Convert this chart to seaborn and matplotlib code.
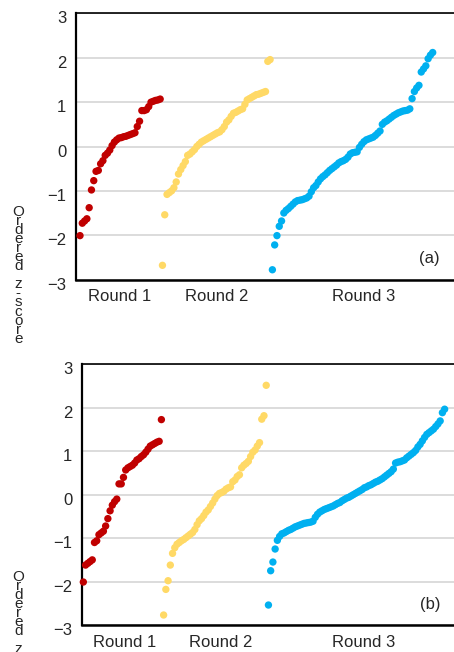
import matplotlib
matplotlib.use("Agg")
import matplotlib.pyplot as plt
import matplotlib.transforms as mtransforms
import pandas as pd
import seaborn as sns

rounds = ["Round 1", "Round 2", "Round 3"]
colors = ["#C00000", "#FFD966", "#00B0F0"]
y_ticks = [-3, -2, -1, 0, 1, 2, 3]
y_label = "Ordered z-score"

# panel (a): sorted scores per round
a_round1 = [-2.01, -1.73, -1.68, -1.63, -1.38, -0.98, -0.77, -0.56, -0.54, -0.39,
            -0.32, -0.20, -0.15, -0.08, 0.02, 0.10, 0.15, 0.19, 0.20, 0.22,
            0.23, 0.25, 0.27, 0.29, 0.31, 0.45, 0.57, 0.81, 0.81, 0.83,
            0.90, 1.00, 1.02, 1.04, 1.05, 1.07]
a_round2 = [-2.68, -1.54, -1.08, -1.04, -1.00, -0.93, -0.80, -0.62, -0.52, -0.43,
            -0.34, -0.20, -0.17, -0.12, -0.07, 0.00, 0.05, 0.10, 0.13, 0.16,
            0.19, 0.22, 0.25, 0.28, 0.31, 0.33, 0.38, 0.45, 0.55, 0.60,
            0.68, 0.75, 0.77, 0.80, 0.83, 0.85, 0.95, 1.05, 1.08, 1.11,
            1.14, 1.17, 1.18, 1.20, 1.22, 1.24, 1.92, 1.96]
a_round3 = [-2.78, -2.22, -2.01, -1.80, -1.68, -1.50, -1.44, -1.40, -1.35, -1.30,
            -1.25, -1.22, -1.21, -1.20, -1.18, -1.16, -1.12, -1.02, -0.93, -0.88,
            -0.80, -0.73, -0.68, -0.64, -0.59, -0.54, -0.50, -0.46, -0.42, -0.37,
            -0.34, -0.32, -0.29, -0.24, -0.17, -0.14, -0.13, -0.12, -0.02, 0.05,
            0.11, 0.15, 0.17, 0.19, 0.21, 0.25, 0.30, 0.35, 0.50, 0.55,
            0.58, 0.62, 0.66, 0.70, 0.73, 0.76, 0.78, 0.80, 0.81, 0.82,
            0.85, 1.08, 1.24, 1.32, 1.38, 1.68, 1.75, 1.82, 1.98, 2.06,
            2.12]

# panel (b)
b_round1 = [-2.01, -1.62, -1.58, -1.54, -1.50, -1.10, -1.06, -0.92, -0.88, -0.84,
            -0.72, -0.55, -0.37, -0.24, -0.16, -0.10, 0.25, 0.25, 0.40, 0.57,
            0.62, 0.65, 0.68, 0.73, 0.80, 0.83, 0.88, 0.92, 0.98, 1.05,
            1.12, 1.15, 1.18, 1.21, 1.23, 1.73]
b_round2 = [-2.77, -2.18, -1.98, -1.62, -1.35, -1.22, -1.14, -1.10, -1.06, -1.03,
            -0.99, -0.95, -0.91, -0.87, -0.80, -0.69, -0.60, -0.55, -0.48, -0.40,
            -0.35, -0.27, -0.19, -0.10, -0.02, 0.03, 0.05, 0.08, 0.13, 0.16,
            0.18, 0.30, 0.34, 0.42, 0.46, 0.62, 0.68, 0.72, 0.77, 0.88,
            0.98, 1.03, 1.12, 1.20, 1.74, 1.82, 2.52]
b_round3 = [-2.54, -1.75, -1.55, -1.25, -1.05, -0.96, -0.90, -0.88, -0.85, -0.82,
            -0.80, -0.77, -0.74, -0.72, -0.70, -0.68, -0.66, -0.65, -0.64, -0.63,
            -0.61, -0.52, -0.45, -0.40, -0.37, -0.34, -0.32, -0.30, -0.28, -0.26,
            -0.23, -0.20, -0.18, -0.14, -0.11, -0.08, -0.06, -0.03, 0.00, 0.03,
            0.06, 0.09, 0.12, 0.16, 0.18, 0.21, 0.23, 0.26, 0.29, 0.31,
            0.34, 0.37, 0.41, 0.45, 0.49, 0.53, 0.59, 0.73, 0.75, 0.76,
            0.78, 0.80, 0.85, 0.89, 0.93, 0.97, 1.02, 1.10, 1.16, 1.24,
            1.32, 1.39, 1.43, 1.47, 1.51, 1.57, 1.63, 1.70, 1.89, 1.97]


def make_frame(groups):
    rows = []
    pos = 0
    for name, vals in zip(rounds, groups):
        for v in vals:
            rows.append({"pos": pos, "round": name, "score": v})
            pos += 1
    return pd.DataFrame(rows)


def draw(ax, df, xlim, tag, label_shift):
    sns.scatterplot(data=df, x="pos", y="score", hue="round", hue_order=rounds,
                    palette=colors, s=28, linewidth=0, legend=False, ax=ax,
                    clip_on=False, zorder=3)
    ax.set_xlim(*xlim)
    ax.set_ylim(-3, 3)
    ax.set_yticks(y_ticks)
    ax.set_yticklabels([f"{t}".replace("-", "\u2212") for t in y_ticks])
    mids = df.groupby("round")["pos"].mean().reindex(rounds).values
    ax.set_xticks([m + s for m, s in zip(mids, label_shift)])
    ax.set_xticklabels(rounds)
    ax.set_xlabel("")
    ax.set_ylabel("")
    ax.yaxis.grid(True, color="#d9d9d9", linewidth=1.3)
    ax.set_axisbelow(True)
    ax.tick_params(axis="both", length=0, labelsize=12)
    ax.tick_params(axis="y", pad=7)
    ax.tick_params(axis="x", pad=7)
    offset = mtransforms.ScaledTranslation(0, -0.04, ax.figure.dpi_scale_trans)
    for lab in ax.get_yticklabels():
        lab.set_transform(lab.get_transform() + offset)
    for side in ["left", "bottom", "top"]:
        ax.spines[side].set_visible(True)
        ax.spines[side].set_color("black")
    ax.spines["left"].set_linewidth(1.6)
    ax.spines["bottom"].set_linewidth(1.8)
    ax.spines["top"].set_linewidth(1.2)
    ax.spines["right"].set_visible(False)
    ax.text(0.935, 0.08, tag, transform=ax.transAxes, ha="center", va="center",
            fontsize=12)


sns.set_style("white")
plt.rcParams["font.family"] = ["Liberation Sans", "DejaVu Sans"]

fig = plt.figure(figsize=(4.54, 6.52), dpi=100)
ax_a = fig.add_axes([0.1674, 0.5713, 0.8326, 0.4080])
ax_b = fig.add_axes([0.1806, 0.0414, 0.8194, 0.3996])

draw(ax_a, make_frame([a_round1, a_round2, a_round3]), (-1.75, 163.3), "(a)", [0, 0.3, 5])
draw(ax_b, make_frame([b_round1, b_round2, b_round3]), (-0.6, 166.2), "(b)", [0.8, 2.5, 3])

# stacked, overlapping axis caption as in the source figure
for top in [0.6856, 0.1258]:
    fig.text(0.04, top, "\n".join(y_label), ha="center", va="top",
             fontsize=11, linespacing=0.55)

fig.savefig("out.png", dpi=100)
